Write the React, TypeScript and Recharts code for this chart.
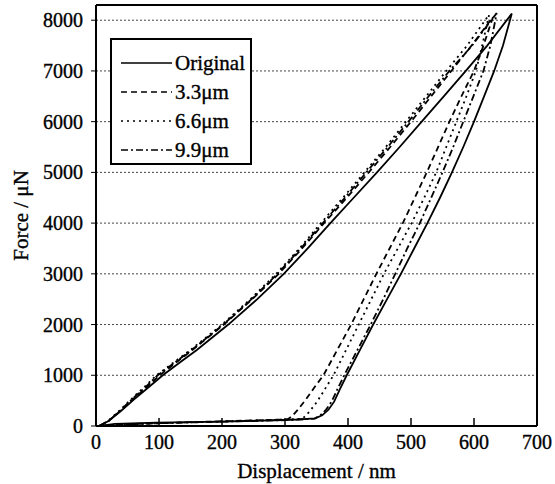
import {
  LineChart,
  Line,
  XAxis,
  YAxis,
  CartesianGrid,
  ReferenceLine,
  Legend,
  Label,
} from "recharts";

// [displacement nm, force uN]: loading branch, unloading branch, then withdrawal
const original = [
  [5, 0], [20, 100], [40, 300], [60, 520], [83, 760], [106, 1000], [133, 1250], [160, 1500],
  [210, 2000], [256, 2500], [298, 3000], [336, 3500], [372, 4000], [409, 4500], [446, 5000],
  [482, 5500], [517, 6000], [552, 6500], [587, 7000], [621, 7500], [660, 8130],
  [646, 7500], [632, 7000], [616, 6500], [600, 6000], [583, 5500], [565, 5000], [546, 4500],
  [526, 4000], [505, 3500], [484, 3000], [462, 2500], [440, 2000], [419, 1500], [398, 1000],
  [387, 720], [378, 480], [369, 320], [359, 210], [348, 150], [320, 128], [297, 118],
  [202, 85], [96, 65], [30, 40], [6, 0],
];

const um33 = [
  [5, 0], [20, 100], [39, 300], [58, 520], [80, 760], [101, 1000], [127, 1250], [153, 1500],
  [203, 2000], [248, 2500], [290, 3000], [327, 3500], [362, 4000], [398, 4500], [433, 5000],
  [467, 5500], [500, 6000], [532, 6500], [564, 7000], [596, 7500], [630, 8060],
  [615, 7500], [600, 7000], [580, 6500], [561, 6000], [543, 5500], [525, 5000], [506, 4500],
  [487, 4000], [466, 3500], [445, 3000], [425, 2500], [405, 2000], [383, 1500], [361, 1000],
  [346, 750], [333, 520], [321, 330], [311, 190], [304, 130], [250, 110], [150, 75], [60, 40],
  [8, 0],
];

const um66 = [
  [5, 0], [19, 100], [37, 300], [56, 530], [76, 760], [96, 1000], [123, 1250], [150, 1500],
  [200, 2000], [245, 2500], [286, 3000], [323, 3500], [357, 4000], [392, 4500], [426, 5000],
  [460, 5500], [492, 6000], [524, 6500], [556, 7000], [589, 7500], [624, 8110],
  [613, 7500], [603, 7000], [588, 6500], [572, 6000], [556, 5500], [540, 5000], [521, 4500],
  [501, 4000], [479, 3500], [457, 3000], [437, 2500], [417, 2000], [397, 1500], [377, 1000],
  [363, 720], [351, 480], [341, 320], [333, 200], [327, 145], [300, 125], [200, 90], [100, 55],
  [40, 25], [8, 0],
];

const um99 = [
  [5, 0], [20, 100], [38, 300], [57, 525], [78, 760], [98, 1000], [125, 1250], [152, 1500],
  [202, 2000], [247, 2500], [288, 3000], [325, 3500], [360, 4000], [395, 4500], [429, 5000],
  [463, 5500], [496, 6000], [528, 6500], [561, 7000], [597, 7500], [636, 8140],
  [626, 7500], [615, 7000], [599, 6500], [583, 6000], [567, 5500], [550, 5000], [532, 4500],
  [514, 4000], [494, 3500], [475, 3000], [456, 2500], [436, 2000], [415, 1500], [394, 1000],
  [383, 720], [374, 480], [365, 320], [356, 210], [347, 145], [300, 115], [200, 85], [100, 55],
  [40, 25], [8, 0],
];

const seriesNames = ["Original", "3.3μm", "6.6μm", "9.9μm"];
const xTicks = [0, 100, 200, 300, 400, 500, 600, 700];
const yTicks = [0, 1000, 2000, 3000, 4000, 5000, 6000, 7000, 8000];

const FONT = "'Liberation Serif', 'Times New Roman', serif";
const dashes = [undefined, "6 4", "2 4", "7 3 2 3"];
// scanned text looks heavy, so give the glyphs a thin outline
const textStyle = { fill: "#000", stroke: "#000", strokeWidth: 0.35, fontFamily: FONT };

const toPoints = (rows: number[][]) => rows.map(([d, f]) => ({ d, f }));
const series = [original, um33, um66, um99].map((rows, i) => ({
  name: seriesNames[i],
  data: toPoints(rows),
  dash: dashes[i],
}));

const renderLegend = () => (
  <svg width={142} height={127} style={{ display: "block" }}>
    <rect x={1} y={1} width={140} height={125} fill="#fff" stroke="#000" strokeWidth={2} />
    {series.map((s, i) => (
      <g key={s.name}>
        <line
          x1={11}
          x2={62}
          y1={25 + i * 29}
          y2={25 + i * 29}
          stroke="#000"
          strokeWidth={1.7}
          strokeDasharray={s.dash}
        />
        <text x={65} y={32 + i * 29} fontSize={21} style={textStyle}>
          {s.name}
        </text>
      </g>
    ))}
  </svg>
);

export default function App() {
  return (
    <div style={{ position: "absolute", left: 0, top: 0, background: "#fff" }}>
      <LineChart
        width={555}
        height={484}
        margin={{ top: 5, right: 18, left: 0, bottom: 0 }}
      >
        <CartesianGrid vertical={false} stroke="#444" strokeDasharray="2 2" />
        <XAxis
          type="number"
          dataKey="d"
          domain={[0, 700]}
          ticks={xTicks}
          height={58}
          allowDataOverflow
          axisLine={{ stroke: "#000", strokeWidth: 2 }}
          tickLine={{ stroke: "#000", strokeWidth: 1.5 }}
          tickSize={-8}
          tickMargin={17}
          tick={{ ...textStyle, fontSize: 20 }}
        >
          <Label
            value="Displacement / nm"
            position="insideBottom"
            offset={6}
            style={{ ...textStyle, fontSize: 21 }}
          />
        </XAxis>
        <YAxis
          type="number"
          dataKey="f"
          domain={[0, 8300]}
          ticks={yTicks}
          width={96}
          allowDataOverflow
          axisLine={{ stroke: "#000", strokeWidth: 2 }}
          tickLine={{ stroke: "#000" }}
          tickSize={5}
          tickMargin={8}
          tick={{ ...textStyle, fontSize: 20 }}
        >
          <Label
            content={({ viewBox }: any) => {
              const cx = viewBox.x + 21;
              const cy = viewBox.y + viewBox.height / 2;
              return (
                <text
                  x={cx}
                  y={cy}
                  transform={`rotate(-90 ${cx} ${cy})`}
                  textAnchor="middle"
                  dominantBaseline="central"
                  fontSize={21}
                  style={textStyle}
                >
                  Force / μN
                </text>
              );
            }}
          />
        </YAxis>
        <ReferenceLine y={8300} stroke="#000" strokeWidth={2} />
        <ReferenceLine x={700} stroke="#000" strokeWidth={2} />
        {series.map((s) => (
          <Line
            key={s.name}
            name={s.name}
            data={s.data}
            dataKey="f"
            type="linear"
            stroke="#000"
            strokeWidth={1.8}
            strokeDasharray={s.dash}
            dot={false}
            activeDot={false}
            isAnimationActive={false}
          />
        ))}
        <Legend
          layout="vertical"
          align="center"
          verticalAlign="middle"
          content={renderLegend}
          wrapperStyle={{ left: 110, top: 38, width: 142, height: 127 }}
        />
      </LineChart>
    </div>
  );
}
